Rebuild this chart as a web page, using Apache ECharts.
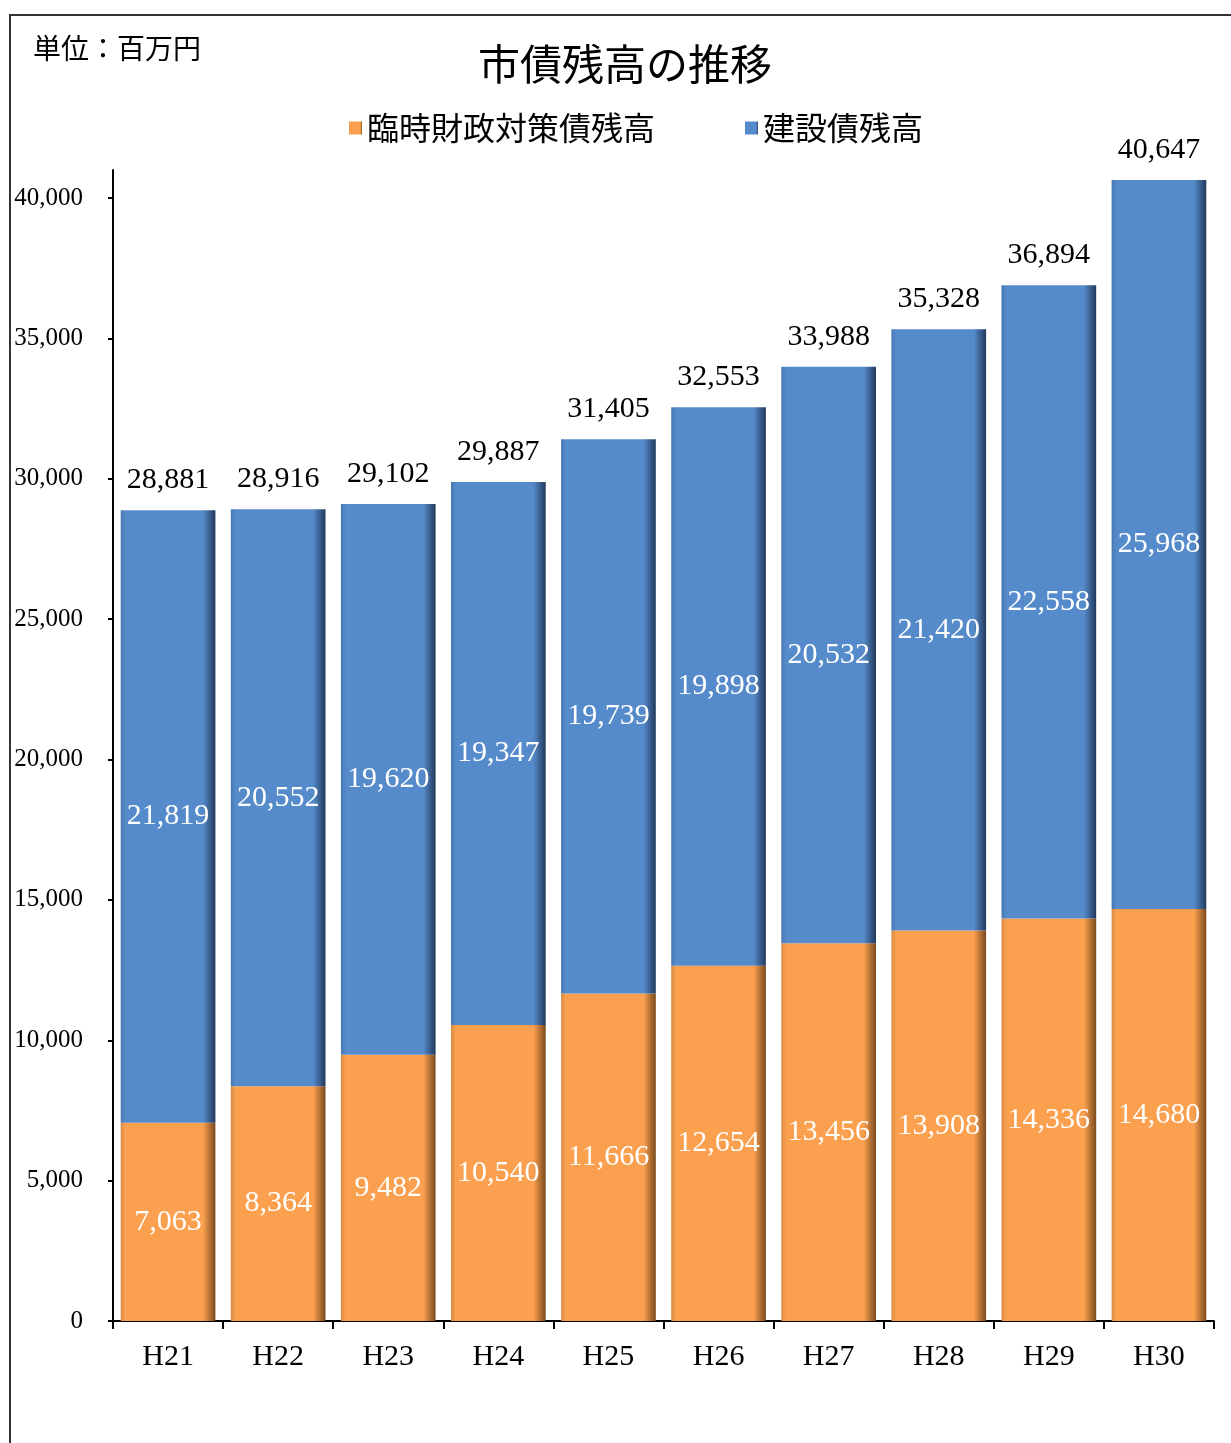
<!DOCTYPE html>
<html><head><meta charset="utf-8">
<script src="https://cdn.jsdelivr.net/npm/echarts@6/dist/echarts.min.js"></script>
<style>html,body{margin:0;padding:0;background:#fff}#c{width:1231px;height:1443px}</style>
</head><body><div id="c"></div>
<script>
const categories = ['H21','H22','H23','H24','H25','H26','H27','H28','H29','H30'];
const rinji = [7063, 8364, 9482, 10540, 11666, 12654, 13456, 13908, 14336, 14680];
const kensetsu = [21819, 20552, 19620, 19347, 19739, 19898, 20532, 21420, 22558, 25968];
const totals = [28881, 28916, 29102, 29887, 31405, 32553, 33988, 35328, 36894, 40647];
const yTicks = [0, 5000, 10000, 15000, 20000, 25000, 30000, 35000, 40000];
const seriesNames = ['臨時財政対策債残高', '建設債残高'];

const serif = '"Liberation Serif", "DejaVu Serif", serif';
const cjk = '"Noto Sans CJK JP", "Noto Sans", sans-serif';
const fmt = v => v.toLocaleString('en-US');

function grad(edge, base, dark) {
  return new echarts.graphic.LinearGradient(0, 0, 1, 0, [
    {offset: 0, color: edge}, {offset: 0.05, color: base},
    {offset: 0.87, color: base}, {offset: 1, color: dark}
  ]);
}

const chart = echarts.init(document.getElementById('c'), null, {renderer: 'canvas'});
chart.setOption({
  animation: false,
  backgroundColor: '#fff',
  legend: {
    left: 344, top: 107, itemGap: 90, itemWidth: 13, itemHeight: 13, icon: 'rect',
    textStyle: {fontFamily: cjk, fontSize: 32, color: '#000', padding: [0, 0, 0, 0]},
    data: seriesNames
  },
  graphic: [
    {type: 'rect', shape: {x: 10, y: 15, width: 1400, height: 1600},
     style: {fill: 'none', stroke: '#333', lineWidth: 2}, silent: true},
    {type: 'text', left: 33, top: 34,
     style: {text: '単位：百万円', font: '28px ' + cjk, fill: '#000'}},
    {type: 'text', x: 625, y: 64,
     style: {text: '市債残高の推移', font: '42px ' + cjk, fill: '#000', textAlign: 'center', textVerticalAlign: 'middle'}}
  ],
  grid: {left: 113, right: 17, top: 170, bottom: 122, containLabel: false},
  xAxis: {
    type: 'category', data: categories,
    axisLine: {lineStyle: {color: '#000', width: 2}},
    axisTick: {show: true, length: 8, lineStyle: {color: '#000', width: 2}},
    axisLabel: {fontFamily: serif, fontSize: 30, color: '#000', margin: 21}
  },
  yAxis: {
    type: 'value', min: 0, max: 41000,
    axisLine: {show: true, lineStyle: {color: '#000', width: 2}},
    axisTick: {show: true, length: 5, inside: false, customValues: yTicks, lineStyle: {color: '#000', width: 2}},
    axisLabel: {fontFamily: serif, fontSize: 25, color: '#000', margin: 30, customValues: yTicks, formatter: v => fmt(v)},
    splitLine: {show: false}
  },
  series: [
    {
      name: seriesNames[0], type: 'bar', stack: 'a', data: rinji, barCategoryGap: '14%',
      itemStyle: {color: grad('#d88a45', '#fba04f', '#7a4a1e')},
      label: {show: true, position: 'inside', fontFamily: serif, fontSize: 30, color: '#fff',
              formatter: p => fmt(p.value)}
    },
    {
      name: seriesNames[1], type: 'bar', stack: 'a', data: kensetsu, barCategoryGap: '14%',
      itemStyle: {color: grad('#4777b0', '#558bcb', '#22395c')},
      label: {show: true, position: 'inside', fontFamily: serif, fontSize: 30, color: '#fff',
              formatter: p => fmt(p.value)}
    },
    {
      name: 'total', type: 'bar', stack: 'a', data: totals.map(() => 0), barCategoryGap: '14%',
      itemStyle: {color: 'transparent'}, legendHoverLink: false,
      label: {show: true, position: 'top', distance: 15, fontFamily: serif, fontSize: 30, color: '#000',
              formatter: p => fmt(totals[p.dataIndex])}
    }
  ]
});
</script></body></html>
